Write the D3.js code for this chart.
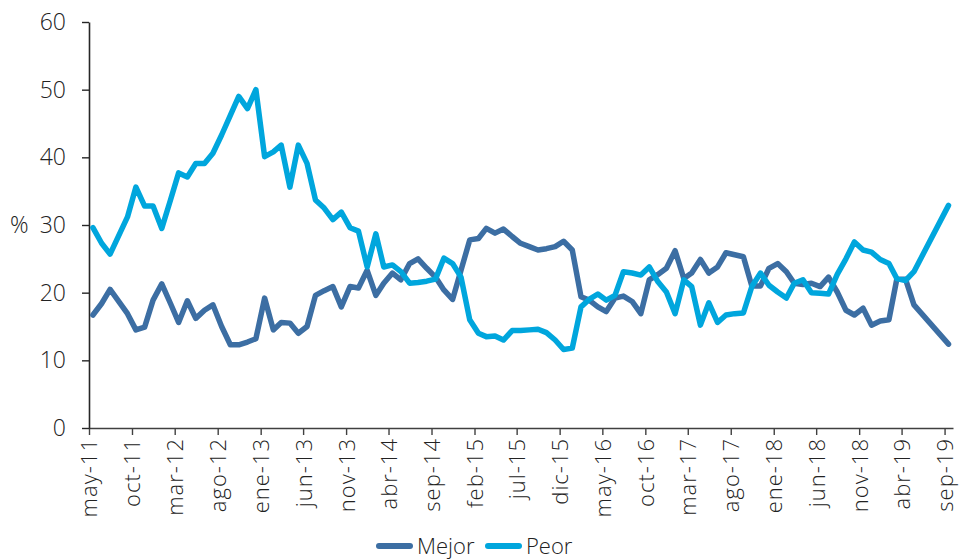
<!DOCTYPE html>
<html>
<head>
<meta charset="utf-8">
<script src="https://cdn.jsdelivr.net/npm/d3@7"></script>
<style>
    body { margin: 0; background: #fff; }
    text { font-family: "Open Sans", "Noto Sans", sans-serif; font-weight: 300; fill: #222; }
</style>
</head>
<body>
<div id="chart"></div>
<script>
// survey months (one point per survey)
var months = [
    "2011-05", "2011-06", "2011-07", "2011-09", "2011-10", "2011-11", "2011-12",
    "2012-01", "2012-02", "2012-03", "2012-04", "2012-05", "2012-06", "2012-07", "2012-08", "2012-09", "2012-10", "2012-11", "2012-12",
    "2013-01", "2013-02", "2013-03", "2013-04", "2013-05", "2013-06", "2013-07", "2013-08", "2013-09", "2013-10", "2013-11", "2013-12",
    "2014-01", "2014-02", "2014-03", "2014-04", "2014-05", "2014-06", "2014-07", "2014-08", "2014-09", "2014-10", "2014-11", "2014-12",
    "2015-01", "2015-02", "2015-03", "2015-04", "2015-05", "2015-06", "2015-07", "2015-08", "2015-09", "2015-10", "2015-11", "2015-12",
    "2016-01", "2016-02", "2016-03", "2016-04", "2016-05", "2016-06", "2016-07", "2016-08", "2016-09", "2016-10", "2016-11", "2016-12",
    "2017-01", "2017-02", "2017-03", "2017-04", "2017-05", "2017-06", "2017-07", "2017-08", "2017-09", "2017-10", "2017-11", "2017-12",
    "2018-01", "2018-02", "2018-03", "2018-04", "2018-05", "2018-06", "2018-07", "2018-08", "2018-09", "2018-10", "2018-11", "2018-12",
    "2019-01", "2019-02", "2019-03", "2019-04", "2019-05", "2019-09"
];

var mejor = [
    16.7, 18.4, 20.5, 16.9, 14.5, 14.9, 18.9,
    21.3, 18.4, 15.6, 18.8, 16.2, 17.4, 18.2, 15.0, 12.3, 12.3, 12.7, 13.2,
    19.2, 14.5, 15.6, 15.5, 14.0, 15.0, 19.6, 20.3, 20.9, 17.9, 20.9, 20.7,
    23.3, 19.6, 21.4, 22.9, 21.9, 24.3, 25.0, 23.6, 22.3, 20.4, 19.0, 23.3,
    27.8, 28.0, 29.5, 28.8, 29.4, 28.3, 27.3, 26.8, 26.3, 26.5, 26.8, 27.6,
    26.3, 19.4, 18.9, 17.9, 17.2, 19.2, 19.5, 18.7, 16.9, 21.9, 22.7, 23.6,
    26.2, 22.1, 22.9, 24.9, 22.9, 23.8, 25.9, 25.6, 25.3, 21.0, 21.0, 23.6,
    24.3, 23.1, 21.4, 21.2, 21.4, 20.9, 22.3, 20.1, 17.4, 16.7, 17.7, 15.2,
    15.8, 16.0, 22.0, 22.0, 18.2, 12.4
];

var peor = [
    29.6, 27.3, 25.7, 31.2, 35.6, 32.8, 32.8,
    29.5, 33.7, 37.7, 37.1, 39.1, 39.1, 40.6, 43.3, 46.2, 49.0, 47.2, 50.0,
    40.1, 40.8, 41.8, 35.6, 41.8, 39.1, 33.7, 32.5, 30.8, 31.9, 29.6, 29.1,
    23.8, 28.7, 23.8, 24.1, 23.1, 21.4, 21.5, 21.7, 22.0, 25.1, 24.3, 22.3,
    16.0, 14.0, 13.5, 13.6, 13.0, 14.4, 14.4, 14.5, 14.6, 14.1, 13.0, 11.6,
    11.8, 17.9, 19.0, 19.8, 18.9, 19.6, 23.1, 22.9, 22.6, 23.8, 21.6, 20.1,
    16.9, 21.9, 20.9, 15.2, 18.5, 15.6, 16.7, 16.9, 17.0, 20.9, 22.9, 21.1,
    20.1, 19.2, 21.4, 21.9, 20.0, 19.9, 19.8, 22.7, 25.0, 27.5, 26.3, 26.0,
    24.9, 24.3, 22.1, 21.8, 23.1, 32.9
];

var tickLabels = ["may-11", "oct-11", "mar-12", "ago-12", "ene-13", "jun-13", "nov-13", "abr-14",
    "sep-14", "feb-15", "jul-15", "dic-15", "may-16", "oct-16", "mar-17", "ago-17",
    "ene-18", "jun-18", "nov-18", "abr-19", "sep-19"];

var yTicks = [0, 10, 20, 30, 40, 50, 60];

var series = [
    {name: "Mejor", values: mejor, color: "#3c6ea3"},
    {name: "Peor", values: peor, color: "#00a6dd"}
];

var width = 963, height = 560;

var svg = d3.select("#chart")
    .append("svg")
    .attr("width", width)
    .attr("height", height);

var parseMonth = d3.timeParse("%Y-%m");
var start = parseMonth("2011-05");

var x = d3.scaleTime()
    .domain([start, parseMonth("2019-10")])
    .range([89, 953]);

var y = d3.scaleLinear()
    .domain([0, 60])
    .range([428, 22]);

// x axis, a tick every 5 months
var tickDates = tickLabels.map(function (d, i) {
    return d3.timeMonth.offset(start, i * 5);
});

var xAxis = svg.append("g")
    .attr("transform", "translate(0," + y(0) + ")")
    .call(d3.axisBottom(x)
        .tickValues(tickDates)
        .tickSize(7)
        .tickSizeOuter(0)
        .tickFormat(function (d, i) { return tickLabels[i]; }));

xAxis.select(".domain").attr("stroke", "#404040").attr("stroke-width", 1.6);
xAxis.selectAll(".tick line").attr("stroke", "#404040").attr("stroke-width", 1.4);
xAxis.selectAll(".tick text")
    .attr("transform", "rotate(-90)")
    .attr("x", -10)
    .attr("y", 0)
    .attr("dy", "0.36em")
    .style("text-anchor", "end")
    .style("font-size", "22px")
    .style("letter-spacing", "1px");

// y axis
var yAxis = svg.append("g")
    .attr("transform", "translate(" + x.range()[0] + ",0)")
    .call(d3.axisLeft(y)
        .tickValues(yTicks)
        .tickSize(7)
        .tickSizeOuter(0)
        .tickPadding(16));

yAxis.select(".domain").attr("stroke", "#262626").attr("stroke-width", 1.6);
yAxis.selectAll(".tick line").attr("stroke", "#262626").attr("stroke-width", 1.4);
yAxis.selectAll(".tick text")
    .style("font-size", "23px");

svg.append("text")
    .attr("x", 10)
    .attr("y", y(30))
    .attr("dy", "0.36em")
    .style("font-size", "23px")
    .text("%");

// lines
var line = d3.line()
    .x(function (d) { return x(d3.timeDay.offset(parseMonth(d.month), 14)); })
    .y(function (d) { return y(d.value); });

series.forEach(function (s) {
    var pts = months.map(function (m, i) {
        return {month: m, value: s.values[i]};
    });
    svg.append("path")
        .datum(pts)
        .attr("d", line)
        .attr("fill", "none")
        .attr("stroke", s.color)
        .attr("stroke-width", 5.5)
        .attr("stroke-linejoin", "round")
        .attr("stroke-linecap", "round");
});

// legend
var legendX = [379, 488];
var legend = svg.selectAll(".legend")
    .data(series)
    .enter()
    .append("g")
    .attr("class", "legend")
    .attr("transform", function (d, i) { return "translate(" + legendX[i] + ",546)"; });

legend.append("line")
    .attr("x1", 0)
    .attr("x2", 31)
    .attr("stroke", function (d) { return d.color; })
    .attr("stroke-width", 6)
    .attr("stroke-linecap", "round");

legend.append("text")
    .attr("x", 38)
    .attr("dy", "0.36em")
    .style("font-size", "22px")
    .text(function (d) { return d.name; });
</script>
</body>
</html>
